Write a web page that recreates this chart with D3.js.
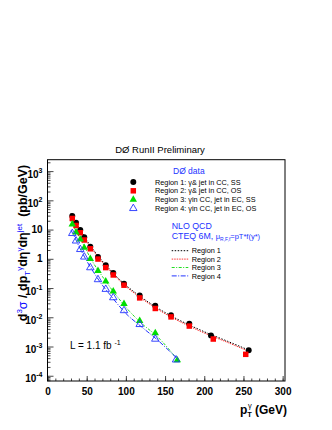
<!DOCTYPE html>
<html>
<head>
<meta charset="utf-8">
<script src="https://cdnjs.cloudflare.com/ajax/libs/d3/7.8.5/d3.min.js"></script>
<style>
  body { margin: 0; background: white; }
  svg { display: block; font-family: "Liberation Sans", Arial, Helvetica, sans-serif; }
</style>
</head>
<body>
<div class="svg__graph"></div>
<script>
const width = 332;
const height = 430;

// measured points, pT in GeV, cross section in pb/GeV
const ptRegion1 = [31.6, 36.4, 41.8, 46.9, 54.6, 64.4, 74.3, 83.9, 97.6, 117.6, 137.5, 157.6, 180.9, 208.6, 256.7];
const xsRegion1 = [29, 17, 9.6, 5.5, 2.6, 1.16, 0.60, 0.33, 0.14, 0.056, 0.025, 0.0117, 0.006, 0.0024, 7.4e-4];
const ptRegion2 = [31.6, 36.4, 41.8, 46.9, 54.6, 64.4, 74.3, 83.9, 97.6, 117.6, 137.5, 157.6, 180.9, 211.5, 252.9];
const xsRegion2 = [24, 13.8, 7.8, 4.4, 2.2, 0.98, 0.50, 0.28, 0.125, 0.046, 0.020, 0.0103, 0.005, 0.0018, 5.4e-4];
const ptRegion3 = [31.6, 36.4, 41.8, 46.9, 54.6, 64.4, 74.3, 83.9, 97.6, 117.6, 137.5, 165.6];
const xsRegion3 = [15, 8.1, 4.6, 2.4, 1.0, 0.39, 0.17, 0.077, 0.029, 0.0075, 0.0029, 3.4e-4];
const ptRegion4 = [31.6, 36.4, 41.8, 46.9, 54.6, 64.4, 74.3, 83.9, 97.6, 117.6, 137.5, 164];
const xsRegion4 = [7.4, 4.1, 2.1, 1.16, 0.50, 0.195, 0.091, 0.047, 0.017, 0.0057, 0.0018, 3.5e-4];

// NLO QCD curves
const ptTheory12 = [30, 35, 40, 45, 50, 60, 70, 80, 90, 100, 120, 140, 160, 180, 200, 230, 257];
const nloRegion1 = [36, 20, 12, 7.2, 4.3, 1.8, 0.83, 0.42, 0.22, 0.125, 0.048, 0.021, 0.0103, 0.0056, 0.0032, 0.0015, 7.5e-4];
const nloRegion2 = [33, 18.5, 11, 6.6, 3.9, 1.65, 0.76, 0.385, 0.2, 0.114, 0.044, 0.0192, 0.0094, 0.0051, 0.0029, 0.00137, 6.8e-4];
const ptTheory34 = [30, 35, 40, 45, 50, 60, 70, 80, 90, 100, 120, 140, 168];
const nloRegion3 = [19, 10.5, 6, 3.4, 1.85, 0.62, 0.25, 0.105, 0.047, 0.022, 0.0062, 0.0022, 3.0e-4];
const nloRegion4 = [9.5, 5.3, 2.7, 1.5, 0.85, 0.31, 0.125, 0.058, 0.027, 0.0135, 0.0047, 0.0017, 3.3e-4];

const dataNames = ['Region 1: \u03b3& jet in CC, SS', 'Region 2: \u03b3& jet in CC, OS',
  'Region 3: \u03b3in CC, jet in EC, SS', 'Region 4: \u03b3in CC, jet in EC, OS'];
const curveNames = ['Region 1', 'Region 2', 'Region 3', 'Region 4'];
const xTickValues = [0, 50, 100, 150, 200, 250, 300];
const yTickExps = [-4, -3, -2, -1, 0, 1, 2, 3];

const frame = { left: 47.5, right: 285, top: 159.7, bottom: 381 };

const svg = d3.select('div.svg__graph').append('svg')
  .attr('width', width)
  .attr('height', height)
  .style('background-color', 'white');

const scaleX = d3.scaleLinear()
  .domain([0, 303])
  .range([frame.left, frame.right]);

const scaleY = d3.scaleLog()
  .domain([Math.pow(10, -4.18), Math.pow(10, 3.39)])
  .range([frame.bottom, frame.top]);

// title
svg.append('text')
  .attr('x', 160)
  .attr('y', 153)
  .attr('text-anchor', 'middle')
  .attr('font-size', 9.5)
  .text('D\u00d8 RunII Preliminary');

// x axis, ticks pointing inside like root
const minorX = d3.range(0, 301, 10);
svg.append('g')
  .attr('transform', `translate(0, ${frame.bottom})`)
  .call(d3.axisBottom(scaleX).tickValues(minorX).tickSize(-2.5).tickSizeOuter(0).tickFormat(''))
  .call(g => g.select('.domain').remove());

svg.append('g')
  .attr('transform', `translate(0, ${frame.bottom})`)
  .call(d3.axisBottom(scaleX).tickValues(xTickValues).tickSize(-5).tickSizeOuter(0).tickPadding(7))
  .call(g => g.select('.domain').remove())
  .call(g => g.selectAll('.tick text')
    .attr('font-family', '"Liberation Sans", Arial, sans-serif')
    .attr('font-size', 10)
    .attr('font-weight', 'bold')
    .attr('fill', 'black'));

// y axis: minor ticks 2..9 for every decade
const minorY = [];
d3.range(-5, 4).forEach((e) => {
  d3.range(2, 10).forEach((m) => {
    const v = m * Math.pow(10, e);
    if (v > scaleY.domain()[0] && v < scaleY.domain()[1]) minorY.push(v);
  });
});

svg.append('g')
  .attr('transform', `translate(${frame.left}, 0)`)
  .call(d3.axisLeft(scaleY).tickValues(minorY).tickSize(-3).tickSizeOuter(0).tickFormat(''))
  .call(g => g.select('.domain').remove());

svg.append('g')
  .attr('transform', `translate(${frame.left}, 0)`)
  .call(d3.axisLeft(scaleY).tickValues(yTickExps.map(e => Math.pow(10, e))).tickSize(-6).tickSizeOuter(0).tickFormat(''))
  .call(g => g.select('.domain').remove());

svg.selectAll('.tick line').attr('stroke', '#333').attr('stroke-width', 0.9);

// y tick labels with exponents
yTickExps.forEach((e) => {
  const y = scaleY(Math.pow(10, e));
  const label = svg.append('text')
    .attr('x', frame.left - 5)
    .attr('text-anchor', 'end')
    .attr('font-size', 10)
    .attr('font-weight', 'bold');
  if (e === 0 || e === 1) {
    label.attr('y', y + 3.6).text(e === 0 ? '1' : '10');
  } else {
    label.attr('y', y + 6.5).text('10');
    label.append('tspan')
      .attr('dy', -5)
      .attr('font-size', 7)
      .text(e);
  }
});

// y axis label
const yTitle = svg.append('text')
  .attr('transform', 'translate(26.5, 243) rotate(-90)')
  .attr('text-anchor', 'middle')
  .attr('font-size', 12.5)
  .attr('font-weight', 'bold');
const yParts = [
  ['d', 0, 'black', 12.5], ['3', -5, 'blue', 8], ['\u03c3', 5, 'blue', 12.5],
  [' / dp', 0, 'black', 12.5], ['T', 3, 'blue', 8], ['\u03b3', -8, 'blue', 8],
  ['d\u03b7', 5, 'black', 12.5], ['\u03b3', -5, 'blue', 8],
  ['d\u03b7', 5, 'black', 12.5], ['jet', -5, 'blue', 8],
  ['\u00a0\u00a0(pb/GeV)', 5, 'black', 12.5]
];
yParts.forEach(p => {
  yTitle.append('tspan')
    .attr('dy', p[1])
    .attr('fill', p[2])
    .attr('font-size', p[3])
    .attr('font-weight', p[2] === 'blue' ? 'normal' : 'bold')
    .text(p[0]);
});

// x axis label
const xTitle = svg.append('text')
  .attr('x', 287)
  .attr('y', 414)
  .attr('text-anchor', 'end')
  .attr('font-size', 12)
  .attr('font-weight', 'bold');
xTitle.append('tspan').text('p');
xTitle.append('tspan').attr('dy', 3).attr('font-size', 7.5).text('T');
xTitle.append('tspan').attr('dx', -4).attr('dy', -9).attr('font-size', 7.5).attr('font-weight', 'normal').text('\u03b3');
xTitle.append('tspan').attr('dy', 6).text(' (GeV)');

// NLO curves
const curves = [
  { x: ptTheory12, y: nloRegion1, color: '#000', dash: '1.5,1.5' },
  { x: ptTheory12, y: nloRegion2, color: '#ff3333', dash: '1.5,1' },
  { x: ptTheory34, y: nloRegion3, color: '#22dd22', dash: '3,1.5,1,1.5' },
  { x: ptTheory34, y: nloRegion4, color: '#2233ff', dash: '5,1.5,1,1.5' }
];
const line = d3.line()
  .x(d => scaleX(d[0]))
  .y(d => scaleY(d[1]))
  .curve(d3.curveMonotoneX);

curves.forEach(c => {
  svg.append('path')
    .datum(c.x.map((x, i) => [x, c.y[i]]))
    .attr('d', line)
    .attr('fill', 'none')
    .attr('stroke', c.color)
    .attr('stroke-width', 1)
    .attr('stroke-dasharray', c.dash);
});

// data points
const markers = [
  { x: ptRegion1, y: xsRegion1, type: d3.symbolCircle, size: 28, fill: 'black', stroke: 'none' },
  { x: ptRegion2, y: xsRegion2, type: d3.symbolSquare, size: 30, fill: '#ff0000', stroke: 'none' },
  { x: ptRegion3, y: xsRegion3, type: d3.symbolTriangle, size: 24, fill: '#00dd00', stroke: 'none' },
  { x: ptRegion4, y: xsRegion4, type: d3.symbolTriangle, size: 24, fill: 'none', stroke: '#2233ff' }
];

markers.forEach(m => {
  svg.append('g').selectAll('path')
    .data(m.x.map((x, i) => [x, m.y[i]]))
    .enter()
    .append('path')
    .attr('transform', d => `translate(${scaleX(d[0])}, ${scaleY(d[1])})`)
    .attr('d', d3.symbol().type(m.type).size(m.size))
    .attr('fill', m.fill)
    .attr('stroke', m.stroke)
    .attr('stroke-width', 0.9);
});

// frame
svg.append('rect')
  .attr('x', frame.left)
  .attr('y', frame.top)
  .attr('width', frame.right - frame.left)
  .attr('height', frame.bottom - frame.top)
  .attr('fill', 'none')
  .attr('stroke', 'black')
  .attr('stroke-width', 1);

// data legend
svg.append('text')
  .attr('x', 173)
  .attr('y', 174)
  .attr('font-size', 8.5)
  .attr('fill', '#2233ff')
  .text('D\u00d8 data');

dataNames.forEach((name, i) => {
  const y = 182 + i * 8.8;
  svg.append('path')
    .attr('transform', `translate(133.3, ${y})`)
    .attr('d', d3.symbol().type(markers[i].type).size(markers[i].size)())
    .attr('fill', markers[i].fill)
    .attr('stroke', markers[i].stroke)
    .attr('stroke-width', 0.9);
  svg.append('text')
    .attr('x', 155)
    .attr('y', y + 2.6)
    .attr('font-size', 7.3)
    .text(name);
});

// theory legend
svg.append('text')
  .attr('x', 171.7)
  .attr('y', 229.3)
  .attr('font-size', 8.8)
  .attr('fill', '#2233ff')
  .text('NLO QCD');

const cteq = svg.append('text')
  .attr('x', 171.7)
  .attr('y', 239)
  .attr('font-size', 8.8)
  .attr('fill', '#2233ff');
cteq.append('tspan').text('CTEQ 6M,  ');
cteq.append('tspan').attr('font-size', 7.5).text('\u03bc');
cteq.append('tspan').attr('font-size', 5).attr('dy', 2).text('R,F,f');
cteq.append('tspan').attr('font-size', 7.5).attr('dy', -2).text('=pT*f(y*)');

curveNames.forEach((name, i) => {
  const y = 250.7 + i * 8.4;
  svg.append('line')
    .attr('x1', 171.7)
    .attr('x2', 188.3)
    .attr('y1', y)
    .attr('y2', y)
    .attr('stroke', curves[i].color)
    .attr('stroke-width', 1)
    .attr('stroke-dasharray', curves[i].dash);
  svg.append('text')
    .attr('x', 191.7)
    .attr('y', y + 2.6)
    .attr('font-size', 7.3)
    .text(name);
});

// luminosity
const lumi = svg.append('text')
  .attr('x', 70)
  .attr('y', 349)
  .attr('font-size', 10);
lumi.append('tspan').text('L = 1.1 fb ');
lumi.append('tspan').attr('dy', -4).attr('font-size', 7).text('-1');
</script>
</body>
</html>
